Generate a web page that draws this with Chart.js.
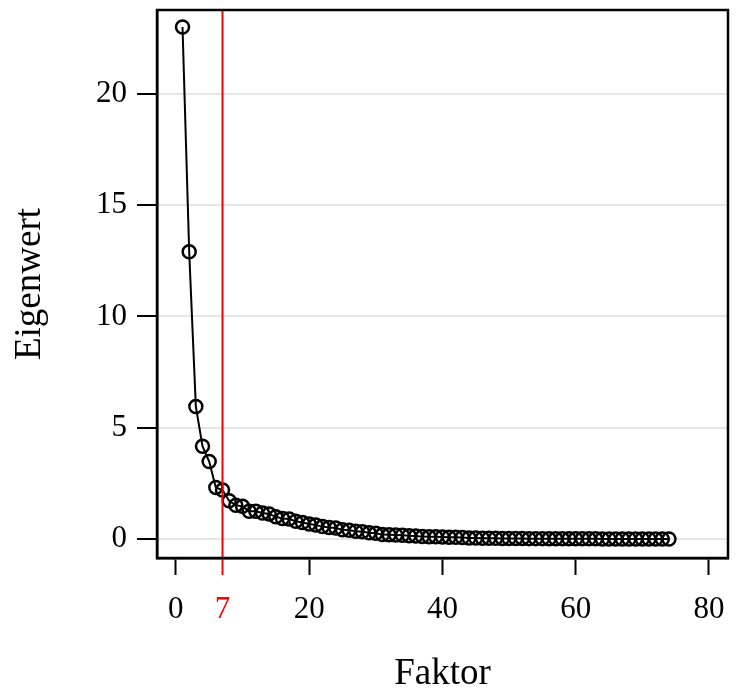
<!DOCTYPE html>
<html>
<head>
<meta charset="utf-8">
<script src="https://cdn.jsdelivr.net/npm/chart.js@4"></script>
<style>
  html, body { margin: 0; padding: 0; background: #fff; overflow: hidden; }
  #wrap { width: 737px; height: 698px; }
  canvas { display: block; }
</style>
</head>
<body>
<div id="wrap"><canvas id="scree"></canvas></div>
<script>
// factor numbers and eigenvalues
const factors = [
  1, 2, 3, 4, 5, 6, 7, 8, 9, 10, 11, 12, 13, 14, 15, 16, 17, 18, 19, 20,
  21, 22, 23, 24, 25, 26, 27, 28, 29, 30, 31, 32, 33, 34, 35, 36, 37, 38, 39, 40,
  41, 42, 43, 44, 45, 46, 47, 48, 49, 50, 51, 52, 53, 54, 55, 56, 57, 58, 59, 60,
  61, 62, 63, 64, 65, 66, 67, 68, 69, 70, 71, 72, 73, 74
];
const eigenvalues = [
  23.0, 12.9, 5.95, 4.17, 3.48, 2.32, 2.2, 1.72, 1.52, 1.47,
  1.25, 1.25, 1.17, 1.13, 1.0, 0.92, 0.9, 0.8, 0.74, 0.68,
  0.63, 0.56, 0.52, 0.5, 0.42, 0.4, 0.35, 0.33, 0.28, 0.26,
  0.2, 0.19, 0.18, 0.17, 0.15, 0.14, 0.11, 0.1, 0.1, 0.09,
  0.08, 0.08, 0.07, 0.05, 0.05, 0.04, 0.04, 0.04, 0.03, 0.03,
  0.03, 0.03, 0.02, 0.02, 0.02, 0.01, 0.01, 0.01, 0.01, 0.01,
  0.01, 0.01, 0.01, 0.0, 0.0, 0.0, 0.0, 0.0, 0.0, 0.0,
  0.0, 0.0, 0.0, 0.0
];
const xTicks = [0, 7, 20, 40, 60, 80];
const yTicks = [0, 5, 10, 15, 20];
const cutoff = 7; // number of factors retained

const serif = '"Liberation Serif", "DejaVu Serif", serif';
const red = '#ff0000';

// box around the plot area + red cutoff line
const framePlugin = {
  id: 'frame',
  afterDatasetsDraw(chart) {
    const { ctx, chartArea } = chart;
    const x = chart.scales.x.getPixelForValue(cutoff);
    ctx.save();
    ctx.strokeStyle = red;
    ctx.lineWidth = 2;
    ctx.beginPath();
    ctx.moveTo(x, chartArea.top);
    ctx.lineTo(x, chartArea.bottom);
    ctx.stroke();
    ctx.strokeStyle = '#000';
    ctx.lineWidth = 2.5;
    ctx.strokeRect(chartArea.left, chartArea.top, chartArea.right - chartArea.left, chartArea.bottom - chartArea.top);
    ctx.restore();
  }
};

new Chart(document.getElementById('scree'), {
  type: 'line',
  data: {
    datasets: [{
      data: factors.map((f, i) => ({ x: f, y: eigenvalues[i] })),
      borderColor: '#000',
      borderWidth: 2,
      tension: 0,
      pointStyle: 'circle',
      pointRadius: 6.5,
      pointBorderWidth: 2.5,
      pointBorderColor: '#000',
      pointBackgroundColor: 'rgba(0,0,0,0)'
    }]
  },
  options: {
    responsive: true,
    maintainAspectRatio: false,
    animation: false,
    layout: { padding: { top: 10, right: 5, left: 0, bottom: 0 } },
    plugins: {
      legend: { display: false },
      tooltip: { enabled: false }
    },
    scales: {
      x: {
        type: 'linear',
        min: -2.83,
        max: 82.86,
        afterBuildTicks: axis => { axis.ticks = xTicks.map(v => ({ value: v })); },
        afterFit: axis => {
          axis.height = 140;
          axis.paddingLeft = 0;
          axis.paddingRight = 0;
        },
        border: { display: true, color: '#000', width: 2.5 },
        grid: {
          drawOnChartArea: false,
          drawTicks: true,
          tickLength: 17,
          tickWidth: 2,
          tickColor: c => (c.tick && c.tick.value === cutoff ? red : '#000')
        },
        ticks: {
          autoSkip: false,
          maxRotation: 0,
          padding: 16,
          color: c => (c.tick && c.tick.value === cutoff ? red : '#000'),
          font: { family: serif, size: 31 }
        },
        title: {
          display: true,
          text: 'Faktor',
          color: '#000',
          font: { family: serif, size: 37 },
          padding: { top: 0, bottom: 2 }
        }
      },
      y: {
        min: -0.85,
        max: 23.76,
        afterBuildTicks: axis => { axis.ticks = yTicks.map(v => ({ value: v })); },
        afterFit: axis => {
          axis.width = 157;
          axis.paddingTop = 0;
          axis.paddingBottom = 0;
        },
        border: { display: true, color: '#000', width: 2.5 },
        grid: {
          color: '#e6e6e6',
          lineWidth: 2,
          tickColor: '#000',
          tickWidth: 2,
          tickLength: 20
        },
        ticks: {
          padding: 10,
          color: '#000',
          font: { family: serif, size: 31 }
        },
        title: {
          display: true,
          text: 'Eigenwert',
          color: '#000',
          font: { family: serif, size: 37 },
          padding: { top: 8, bottom: 0 }
        }
      }
    }
  },
  plugins: [framePlugin]
});
</script>
</body>
</html>
